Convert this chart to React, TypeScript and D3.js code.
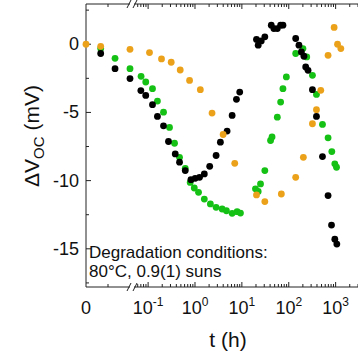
import * as d3 from "d3";

// [t (h), ΔVoc (mV)]
const blackPts: [number, number][] = [
  [0.0167, -0.68], [0.033, -1.79], [0.05, -2.52], [0.07, -3.4], [0.089, -3.75], [0.124, -4.43],
  [0.158, -5.29], [0.213, -5.98], [0.272, -7.13], [0.379, -8.04], [0.468, -8.65], [0.62, -9.26],
  [0.82, -9.93], [1.01, -9.83], [1.25, -9.76], [1.58, -9.51], [2.06, -8.95], [2.82, -8.16],
  [3.48, -7.18], [4.84, -6.37], [6.2, -5.22], [7.66, -4.04], [9.0, -3.51],
  [20.5, 0.35], [22.3, -0.07], [25.9, 0.24], [30.9, 0.54], [42.4, 1.4], [48.2, 1.15], [57, 1.15],
  [67.1, 1.4], [75.2, 1.4], [140.6, 0.42], [165, -0.07], [186, -0.57], [211, -0.88], [230, -1.67],
  [258, -1.91], [320, -3.33], [390, -5.29], [524, -8.24], [690, -11.1], [817, -13.26],
  [961, -14.29], [1061, -14.65],
];

const greenPts: [number, number][] = [
  [0.0167, -0.32], [0.033, -1.03], [0.05, -1.79], [0.0708, -2.35], [0.089, -2.77], [0.124, -3.26],
  [0.158, -4.17], [0.213, -4.98], [0.286, -6.1], [0.366, -7.26], [0.468, -8.29], [0.62, -9.1],
  [0.79, -10.13], [0.966, -10.54], [1.19, -10.86], [1.58, -11.35], [2.13, -11.71], [2.82, -11.96],
  [3.79, -12.08], [4.68, -12.21], [6.2, -12.4], [7.92, -12.28], [9.33, -12.38],
  [19.5, -10.6], [22.3, -10.79], [25, -10.24], [30.9, -9.26], [40.9, -7.06], [44, -6.8],
  [57, -5.35], [67.1, -4.24], [75.2, -3.26], [88.9, -2.4], [140.6, -0.68], [201, -0.32],
  [242, -0.93], [320, -2.28], [390, -3.68], [524, -5.88], [690, -6.86], [829, -7.87],
  [961, -8.77], [1045, -9.02],
];

const orangePts: [number, number][] = [
  [0, 0], [0.0167, -0.15], [0.05, -0.37], [0.107, -0.61], [0.193, -1.08], [0.311, -1.32],
  [0.484, -1.89], [0.766, -2.65], [1.3, -3.33], [2.31, -5.05], [3.98, -6.62], [7.05, -8.73],
  [20.5, -11.05], [30.9, -11.54], [69.5, -10.98], [140.6, -9.76], [205, -8.29], [320, -5.83],
  [390, -4.8], [482, -3.38], [690, -0.81], [929, 1.23], [1098, 0], [1292, -0.32],
];

const yTickLabels = [0, -5, -10, -15];
const xDecades = [-1, 0, 1, 2, 3];
const noteLines = ["Degradation conditions:", "80°C, 0.9(1) suns"];

const W = 358;
const H = 358;
const left = 86;
const right = 358;
const top = 4;
const bottom = 287;
const breakL = 130;
const breakR = 134;
const FONT = "'Liberation Sans', Arial, sans-serif";

const xLin = d3.scaleLinear().domain([0, 0.05]).range([left, breakL]);
const xLog = d3.scaleLog().domain([0.05, 3000]).range([breakR, right]);
const x = (t: number) => (t <= 0.05 ? xLin(t) : xLog(t));
const y = d3.scaleLinear().domain([-17.8, 2.95]).range([bottom, top]);

const series = [
  { pts: greenPts, color: "#14c114" },
  { pts: blackPts, color: "#000000" },
  { pts: orangePts, color: "#eba21a" },
];

export default function App() {
  const logTicks = xLog.ticks().filter((t) => t > 0.05);
  const isMajor = (t: number) => Math.abs(Math.log10(t) - Math.round(Math.log10(t))) < 1e-6;
  const linTicks = [0.025];
  const yTicks = d3.range(-17.5, 3, 2.5);

  const hTicks = (y0: number, dir: number) => (
    <g stroke="#222" strokeWidth={1}>
      {linTicks.map((t) => (
        <line key={"l" + t} x1={xLin(t)} x2={xLin(t)} y1={y0} y2={y0 + dir * 3} />
      ))}
      {logTicks.map((t) => (
        <line key={t} x1={xLog(t)} x2={xLog(t)} y1={y0} y2={y0 + dir * (isMajor(t) ? 5 : 3)} />
      ))}
      <line x1={left} x2={breakL} y1={y0} y2={y0} />
      <line x1={breakR} x2={right} y1={y0} y2={y0} />
      <line x1={breakL - 3} x2={breakL + 1} y1={y0 + 4} y2={y0 - 4} />
      <line x1={breakR - 1} x2={breakR + 3} y1={y0 + 4} y2={y0 - 4} />
    </g>
  );

  return (
    <svg
      width={W}
      height={H}
      style={{ position: "absolute", left: 0, top: 0, background: "#fff" }}
      fontFamily={FONT}
    >
      {/* y axis */}
      <g stroke="#222" strokeWidth={1}>
        <line x1={left} x2={left} y1={top} y2={bottom} />
        {yTicks.map((v) => (
          <line key={v} x1={left} x2={left + (v % 5 === 0 ? 5 : 3)} y1={y(v)} y2={y(v)} />
        ))}
      </g>
      {yTickLabels.map((v) => (
        <text key={v} x={79} y={y(v) + 6} textAnchor="end" fontSize={18} fill="#111">
          {v === 0 ? "0" : "-" + Math.abs(v)}
        </text>
      ))}
      <text transform={`translate(39,136) rotate(-90)`} textAnchor="middle" fontSize={21} fill="#111">
        ΔV<tspan fontSize={15} dy={5}>OC</tspan>
        <tspan dy={-5}> (mV)</tspan>
      </text>

      {/* x axes: bottom and top with break */}
      {hTicks(bottom, -1)}
      {hTicks(top, 1)}
      <text x={xLin(0)} y={314} textAnchor="middle" fontSize={18} fill="#111">0</text>
      {xDecades.map((p) => (
        <text key={p} x={xLog(Math.pow(10, p))} y={314} textAnchor="middle" fontSize={18} fill="#111">
          10<tspan fontSize={12} dy={-8}>{p}</tspan>
        </text>
      ))}
      <text x={228} y={347} textAnchor="middle" fontSize={21} fill="#111">t (h)</text>

      {/* note */}
      {noteLines.map((s, i) => (
        <text key={i} x={89} y={258 + i * 19} fontSize={17} fill="#111">{s}</text>
      ))}

      {/* data */}
      {series.map((s, si) => (
        <g key={si} fill={s.color}>
          {s.pts.map(([t, v], i) => (
            <circle key={i} cx={x(t)} cy={y(v)} r={3.4} />
          ))}
        </g>
      ))}
    </svg>
  );
}
